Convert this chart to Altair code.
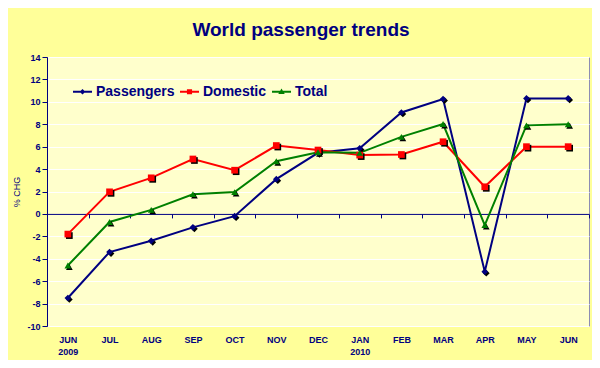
import altair as alt
import pandas as pd

months = ["JUN|2009", "JUL", "AUG", "SEP", "OCT", "NOV", "DEC",
          "JAN|2010", "FEB", "MAR", "APR", "MAY", "JUN"]
passengers = [-7.5, -3.4, -2.4, -1.2, -0.2, 3.1, 5.45, 5.85, 9.05, 10.25, -5.15, 10.3, 10.3]
domestic = [-1.8, 1.97, 3.22, 4.9, 3.9, 6.1, 5.7, 5.25, 5.3, 6.44, 2.42, 6.0, 6.0]
total = [-4.6, -0.72, 0.36, 1.76, 1.95, 4.7, 5.5, 5.45, 6.87, 8.02, -1.0, 7.9, 8.0]

series_names = ["Passengers", "Domestic", "Total"]
series_colors = ["#000080", "#FF0000", "#008000"]
series_shapes = ["diamond", "square", "triangle-up"]
# legend glyphs: short line segment (thin filled bar) with the series marker
legend_shapes = [
    "M-1,-0.1L1,-0.1L1,0.1L-1,0.1Z M0,-0.3L0.3,0L0,0.3L-0.3,0Z",
    "M-1,-0.1L1,-0.1L1,0.1L-1,0.1Z M-0.27,-0.27L0.27,-0.27L0.27,0.27L-0.27,0.27Z",
    "M-1,-0.1L1,-0.1L1,0.1L-1,0.1Z M0,-0.34L0.34,0.24L-0.34,0.24Z",
]
y_ticks = list(range(-10, 15, 2))

df = pd.DataFrame({
    "month": months * 3,
    "series": [series_names[0]] * len(months) + [series_names[1]] * len(months) + [series_names[2]] * len(months),
    "value": passengers + domestic + total,
})

NAVY = "#000080"
FONT = "Liberation Sans"
W, H = 542, 269
zero_offset = -(H * 10 / 24)

x_enc = alt.X(
    "month:N", sort=months,
    scale=alt.Scale(type="band", paddingInner=0, paddingOuter=0),
    axis=alt.Axis(
        title=None, orient="bottom", offset=zero_offset, grid=False,
        domainColor=NAVY, domainWidth=1, tickColor=NAVY, tickSize=4,
        tickBand="extent", labelPadding=-zero_offset + 5, labelAngle=0,
        labelExpr="isValid(datum.value) ? split(datum.value, '|') : ''",
        labelFont=FONT, labelFontSize=9,
        labelFontWeight="bold", labelColor=NAVY, labelLineHeight=12,
        labelOverlap=False,
    ),
)
y_enc = alt.Y(
    "value:Q",
    scale=alt.Scale(domain=[-10, 14], nice=False, zero=False),
    axis=alt.Axis(
        values=y_ticks, title="% CHG", domainColor=NAVY, domainWidth=1,
        labelExpr="toString(datum.value)",
        tickColor=NAVY, tickSize=5, labelFont=FONT, labelFontSize=9,
        labelFontWeight="bold", labelColor=NAVY, labelPadding=2,
        gridColor="#FFFFFF", gridWidth=1, gridOpacity=1,
        titleFont=FONT, titleFontSize=9, titleFontWeight="normal",
        titleColor=NAVY, titleX=-31, titleY=H / 2, titleAngle=-90,
        titleAlign="center", titleBaseline="middle",
    ),
)
color_scale = alt.Scale(domain=series_names, range=series_colors)

leg = alt.Legend(
    orient="none", legendX=26, legendY=25, direction="horizontal",
    title=None, labelFont=FONT, labelFontSize=14, labelFontWeight="bold",
    labelColor=NAVY, symbolSize=361, symbolStrokeWidth=0, labelOffset=4,
    columnPadding=5, padding=0, symbolOpacity=1,
)

base = alt.Chart(df)
line_layers, shadow_layers, point_layers = [], [], []
for name, col, shp in zip(series_names, series_colors, series_shapes):
    sub = base.transform_filter(alt.datum.series == name)
    line_layers.append(
        sub.mark_line(strokeWidth=2, color=col).encode(x=x_enc, y=y_enc)
    )
    shadow_layers.append(
        sub.mark_point(filled=True, shape=shp, color="#000000", size=45,
                       opacity=1, xOffset=1.5, yOffset=1.5).encode(x=x_enc, y=y_enc)
    )
    point_layers.append(
        sub.mark_point(filled=True, shape=shp, color=col, size=45,
                       opacity=1).encode(x=x_enc, y=y_enc)
    )
legend_layer = base.mark_point(filled=True, opacity=0, size=361).encode(
    x=x_enc, y=y_enc,
    color=alt.Color("series:N", scale=color_scale, legend=leg),
    shape=alt.Shape("series:N", scale=alt.Scale(domain=series_names, range=legend_shapes), legend=leg),
)

chart = alt.layer(*line_layers, *shadow_layers, *point_layers, legend_layer).properties(
    width=W, height=H,
    title=alt.Title("World passenger trends", fontSize=19, fontWeight="bold",
                    color=NAVY, font=FONT, anchor="middle", dx=-17,
                    offset=4, dy=6, baseline="alphabetic"),
    autosize=alt.AutoSizeParams(type="none"),
    padding={"left": 39, "top": 49, "right": 3, "bottom": 34},
    background="#FFFF99",
).configure(font=FONT).configure_view(
    fill="#FFFFCC", stroke="#8C8CB4", strokeWidth=1,
)

chart.save("out.html", embed_options={"renderer": "svg", "actions": False})
